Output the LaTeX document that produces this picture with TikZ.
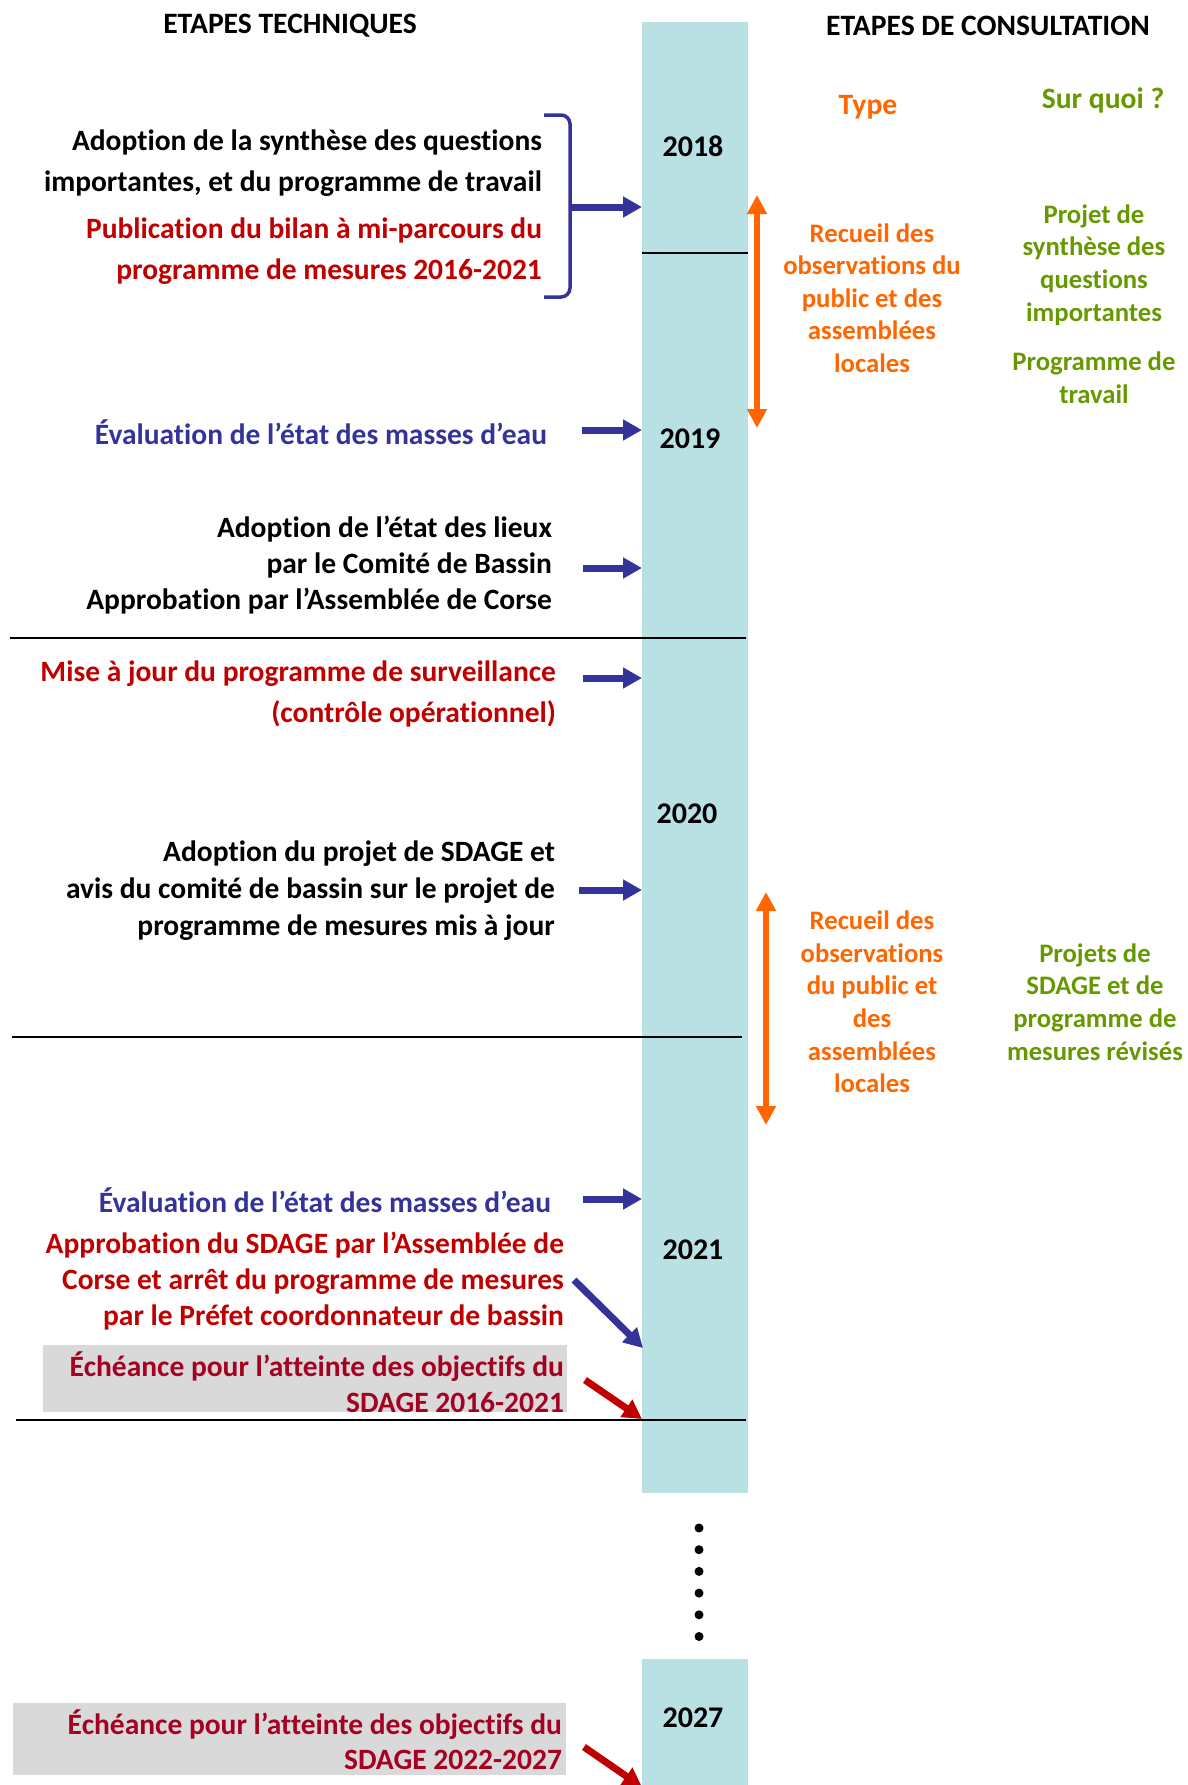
\documentclass[tikz,border=0pt]{standalone}
\usepackage{fontspec}
\setmainfont{Carlito}[Ligatures=NoCommon]
\usetikzlibrary{arrows.meta}
\definecolor{barcol}{RGB}{185,224,227}
\definecolor{bluecol}{RGB}{51,51,153}
\definecolor{redcol}{RGB}{192,0,0}
\definecolor{dredcol}{RGB}{165,0,33}
\definecolor{orangecol}{RGB}{255,102,0}
\definecolor{greencol}{RGB}{102,153,0}
\definecolor{greycol}{RGB}{217,217,217}
\begin{document}
\begin{tikzpicture}[x=1pt,y=-1pt,
  every node/.style={inner sep=0pt,outer sep=0pt},
  lefttxt/.style={anchor=east,align=right,font=\bfseries\fontsize{29.5}{#1}\selectfont},
  ctrtxt/.style={align=center,font=\bfseries\fontsize{26.7}{32.6}\selectfont},
  titletxt/.style={font=\bfseries\fontsize{29.6}{32}\selectfont},
  yeartxt/.style={font=\bfseries\fontsize{30}{32}\selectfont},
  barbox/.style={fill=barcol,anchor=north west,minimum width=106pt},
  greybox/.style={fill=greycol,anchor=north west},
  bluearr/.style={draw=bluecol,line width=7pt,-{Triangle[length=19pt,width=20pt]}},
  redarr/.style={draw=redcol,line width=7pt,-{Triangle[length=19pt,width=20pt]}},
  orarr/.style={draw=orangecol,line width=6.5pt,{Triangle[length=19pt,width=19pt]}-{Triangle[length=19pt,width=19pt]}},
  sepline/.style={draw=black,line width=2.5pt}]
\useasboundingbox (0,0) rectangle (1187,1785);

% bars
\node[barbox,minimum height=1471pt] (bar1) at (642,22) {};
\node[barbox,minimum height=140pt] (bar2) at (642,1659) {};

% titles
\node[titletxt] (t1) at (290,26) {ETAPES TECHNIQUES};
\node[titletxt] (t2) at (988,26) {ETAPES DE CONSULTATION};
\node[titletxt,text=orangecol] (t3) at (868,107) {Type};
\node[titletxt,text=greencol] (t4) at (1103,100) {Sur quoi ?};

% years
\node[yeartxt] (y18) at (693,146) {2018};
\node[yeartxt] (y19) at (690,439) {2019};
\node[yeartxt] (y20) at (687,814) {2020};
\node[yeartxt] (y21) at (693,1250) {2021};
\node[yeartxt] (y27) at (693,1718) {2027};

% separating lines
\draw[sepline] (642,253) -- (748,253);
\draw[sepline] (10,638) -- (746,638);
\draw[sepline] (12,1037) -- (742,1037);
\draw[sepline] (16,1420) -- (746,1420);

% left texts
\node[lefttxt=41] (a1) at (542,163) {Adoption de la synthèse des questions\\importantes, et du programme de travail};
\node[lefttxt=41,text=redcol] (a2) at (542,251) {Publication du bilan à mi-parcours du\\programme de mesures 2016-2021};
\node[lefttxt=41,text=bluecol] (a3) at (547,432) {Évaluation de l’état des masses d’eau};
\node[lefttxt=36] (a4) at (552,565) {Adoption de l’état des lieux\\par le Comité de Bassin\\Approbation par l’Assemblée de Corse};
\node[lefttxt=41,text=redcol] (a5) at (556,694) {Mise à jour du programme de surveillance\\(contrôle opérationnel)};
\node[lefttxt=37] (a6) at (555,891) {Adoption du projet de SDAGE et\\avis du comité de bassin sur le projet de\\programme de mesures mis à jour};
\node[lefttxt=41,text=bluecol] (a7) at (551,1200) {Évaluation de l’état des masses d’eau};
\node[lefttxt=36,text=redcol] (a8) at (564,1281) {Approbation du SDAGE par l’Assemblée de\\Corse et arrêt du programme de mesures\\par le Préfet coordonnateur de bassin};
\node[greybox,minimum width=524pt,minimum height=67pt] (g1) at (43,1345) {};
\node[lefttxt=36,text=dredcol] (a9) at (564,1382) {Échéance pour l’atteinte des objectifs du\\SDAGE 2016-2021};
\node[greybox,minimum width=553pt,minimum height=72pt] (g2) at (13,1703) {};
\node[lefttxt=35,text=dredcol] (a10) at (562,1740) {Échéance pour l’atteinte des objectifs du\\SDAGE 2022-2027};

% right texts
\node[ctrtxt,text=orangecol] (o1) at (872,298) {Recueil des\\observations du\\public et des\\assemblées\\locales};
\node[ctrtxt,text=greencol] (gr1) at (1094,265) {Projet de\\synthèse des\\questions\\importantes};
\node[ctrtxt,text=greencol] (gr2) at (1094,378) {Programme de\\travail};
\node[ctrtxt,text=orangecol] (o2) at (872,1002) {Recueil des\\observations\\du public et\\des\\assemblées\\locales};
\node[ctrtxt,text=greencol] (gr3) at (1095,1002) {Projets de\\SDAGE et de\\programme de\\mesures révisés};

% brace
\coordinate (bt) at (570,207);
\draw[draw=bluecol,line width=3.5pt,rounded corners=9pt] (544,115) -- (570,115) -- (bt) -- (570,297) -- (544,297);
\draw[bluearr] (bt) -- (bt -| bar1.west);

% blue arrows
\coordinate (s3) at (582,430);
\coordinate (s4) at (583,568);
\coordinate (s5) at (583,678);
\coordinate (s6) at (579,890);
\coordinate (s7) at (583,1199);
\draw[bluearr] (s3) -- (s3 -| bar1.west);
\draw[bluearr] (s4) -- (s4 -| bar1.west);
\draw[bluearr] (s5) -- (s5 -| bar1.west);
\draw[bluearr] (s6) -- (s6 -| bar1.west);
\draw[bluearr] (s7) -- (s7 -| bar1.west);
\coordinate (s8) at (574,1280);
\coordinate (e8) at (643,1348);
\draw[bluearr] (s8) -- (e8);
\coordinate (s9) at (585,1380);
\coordinate (e9) at (642,1419);
\draw[redarr] (s9) -- (e9);
\coordinate (s10) at (584,1747);
\coordinate (e10) at (642,1787);
\draw[redarr] (s10) -- (e10);

% orange double arrows
\coordinate (oa1) at (757,195);
\coordinate (ob1) at (757,428);
\draw[orarr] (oa1) -- (ob1);
\coordinate (oa2) at (766,892);
\coordinate (ob2) at (766,1125);
\draw[orarr] (oa2) -- (ob2);

% dots
\foreach \i in {0,...,5} {\fill (699,1528+21.7*\i) circle (4.5pt);}
\end{tikzpicture}
\end{document}
